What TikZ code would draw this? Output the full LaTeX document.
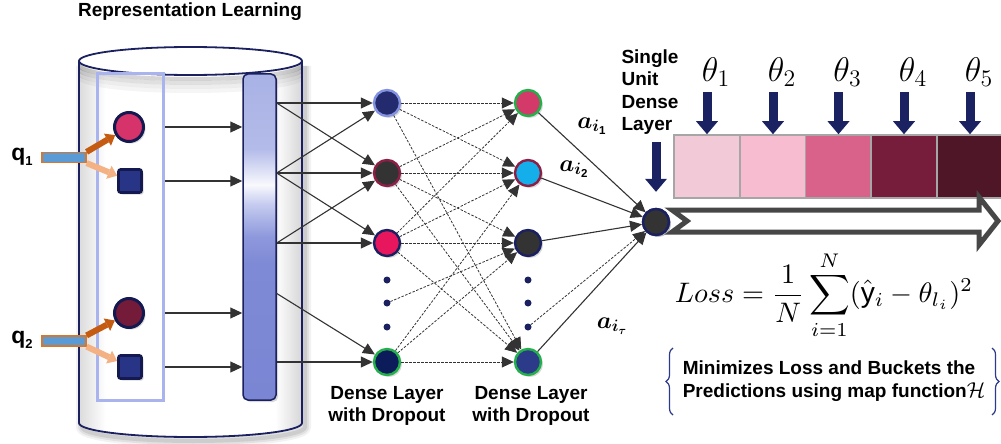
\documentclass[tikz,border=0pt]{standalone}
\usepackage{fontspec}
\setmainfont{Liberation Sans}
\usepackage{amsmath,bm}
\usepackage{graphicx}
\usetikzlibrary{arrows.meta,shadows,decorations.pathreplacing,calc}

\definecolor{navy}{HTML}{1B2160}
\definecolor{navyA}{HTML}{1A2262}
\definecolor{lnk}{HTML}{333333}
\definecolor{poolc}{HTML}{A9B3EE}
\definecolor{barA}{HTML}{A9B2E5}
\definecolor{barB}{HTML}{7A86D3}
\definecolor{barC}{HTML}{7F8AD6}
\definecolor{barD}{HTML}{8D98DC}
\definecolor{barE}{HTML}{C5CBEF}
\definecolor{barF}{HTML}{B3BBE9}
\definecolor{qblue}{HTML}{5B9BD5}
\definecolor{qedge}{HTML}{D4782F}
\definecolor{odark}{HTML}{C55A11}
\definecolor{olight}{HTML}{F4B183}
\definecolor{pinkA}{HTML}{D6336A}
\definecolor{wine}{HTML}{751B3A}
\definecolor{sqfill}{HTML}{283587}
\definecolor{sqedge}{HTML}{141A50}
\definecolor{periw}{HTML}{8392E0}
\definecolor{maroon}{HTML}{8C1F45}
\definecolor{grn}{HTML}{23B04A}
\definecolor{hotpink}{HTML}{E8175D}
\definecolor{deepnavy}{HTML}{0C1C5A}
\definecolor{midnavy}{HTML}{232A6E}
\definecolor{rose}{HTML}{D33A6A}
\definecolor{cyanb}{HTML}{14AEEA}
\definecolor{bluen}{HTML}{2C3A8A}
\definecolor{darkg}{HTML}{333333}
\definecolor{boxgray}{HTML}{A6A6A6}
\definecolor{th1}{HTML}{F2C9D6}
\definecolor{th2}{HTML}{F7BCD0}
\definecolor{th3}{HTML}{D9628B}
\definecolor{th4}{HTML}{751D3B}
\definecolor{th5}{HTML}{4F1628}
\definecolor{hollow}{HTML}{474747}
\definecolor{bracec}{HTML}{2B3A8C}

\pgfdeclarehorizontalshading{cylwall}{100bp}{color(0bp)=(black!14); color(25bp)=(black!14); color(31bp)=(white); color(69bp)=(white); color(75bp)=(black!16); color(100bp)=(black!16)}
\pgfdeclareverticalshading{barfill}{100bp}{color(0bp)=(barB); color(25bp)=(barB); color(46bp)=(barC); color(50bp)=(barD); color(55bp)=(barE); color(58bp)=(white!92!barA); color(63.5bp)=(barF); color(75bp)=(barA); color(100bp)=(barA)}

\begin{document}
\begin{tikzpicture}[x=1pt,y=-1pt,
  lbl/.style={font=\fontsize{19}{22.5}\selectfont\bfseries},
  shade3/.style={drop shadow={opacity=0.3, shadow xshift=2pt, shadow yshift=-2pt}},
  neuron/.style={circle, minimum size=26pt, inner sep=0pt, line width=2.4pt, shade3},
  dotn/.style={circle, fill=navy, minimum size=7pt, inner sep=0pt},
  item/.style={circle, minimum size=29pt, inner sep=0pt, line width=3pt, draw=sqedge, shade3},
  itemsq/.style={rectangle, rounded corners=2pt, minimum size=23pt, inner sep=0pt, line width=2.6pt, draw=sqedge, fill=sqfill, shade3},
  qbox/.style={rectangle, minimum width=44pt, minimum height=10pt, inner sep=0pt, fill=qblue, draw=qedge, line width=1.2pt},
  link/.style={draw=lnk, line width=1.1pt, -{Triangle[length=12pt,width=11pt]}},
  droplink/.style={draw=lnk, line width=0.8pt, dash pattern=on 2.5pt off 1.5pt, -{Triangle[length=12pt,width=11pt]}},
  feed/.style={line width=6pt, -{Triangle[length=9pt,width=14pt,line width=0pt]}},
  navarrow/.style={draw=navyA, line width=9pt, -{Triangle[length=13pt,width=22pt,line width=0pt]}},
  tbox/.style={rectangle, draw=boxgray, line width=1.6pt, minimum width=66pt, minimum height=63pt, inner sep=0pt},
  alabel/.style={font=\fontsize{20}{20}\selectfont},
]
\useasboundingbox (0,0) rectangle (1001,444);

% ---------------- title ----------------
\node[lbl] (title) at (190,12) {Representation Learning};

% ---------------- cylinder ----------------
\foreach \w/\o in {12/0.05,8/0.07,4/0.09}{
  \draw[black, opacity=\o, line width=\w pt, line join=round]
    (82,66) -- (82,427) arc[start angle=180,end angle=0,x radius=111.5,y radius=14] -- (305,66);
}
\path[shading=cylwall] (79,61) -- (79,423) arc[start angle=180,end angle=0,x radius=111.5,y radius=14] -- (302,61) -- cycle;
\begin{scope}
  \clip (79,61) -- (79,423) arc[start angle=180,end angle=0,x radius=111.5,y radius=14] -- (302,61) -- cycle;
  \foreach \k/\o in {4/0.16,8/0.12,12/0.07,16/0.04}{
    \draw[black, opacity=\o, line width=4pt] (79,61+\k) arc[start angle=180,end angle=0,x radius=111.5,y radius=14];
  }
\end{scope}
\draw[navy, line width=1.8pt] (79,61) -- (79,423) arc[start angle=180,end angle=0,x radius=111.5,y radius=14] -- (302,61);
\draw[navy, line width=1.8pt, fill=white] (190.5,61) ellipse[x radius=111.5, y radius=14];

% pool of embeddings and the concatenation bar
\node[rectangle, draw=poolc, line width=3pt, minimum width=66pt, minimum height=327pt, inner sep=0pt] (pool) at (130.5,237) {};
\node[rectangle, rounded corners=5pt, draw=navy, line width=1.5pt, shading=barfill, minimum width=33pt, minimum height=326pt, inner sep=0pt, shade3] (bar) at (259.5,237) {};

% items inside the pool
\node[item, fill=pinkA] (e1) at (129,127) {};
\node[itemsq] (e2) at (130,181) {};
\node[item, fill=wine] (e3) at (129,313) {};
\node[itemsq] (e4) at (130,367) {};

% queries
\node[qbox] (q1box) at (64,157.5) {};
\node[qbox] (q2box) at (64,341) {};
\node[font=\fontsize{23}{23}\selectfont\bfseries] (q1) at (22,157) {q\raisebox{-5pt}{\fontsize{13}{13}\selectfont 1}};
\node[font=\fontsize{23}{23}\selectfont\bfseries] (q2) at (22,340) {q\raisebox{-5pt}{\fontsize{13}{13}\selectfont 2}};
\draw[feed, draw=odark] (q1box.north east) -- (e1);
\draw[feed, draw=olight] (q1box.south east) -- (e2);
\draw[feed, draw=odark] (q2box.north east) -- (e3);
\draw[feed, draw=olight] (q2box.south east) -- (e4);

% pool to bar
\foreach \e in {e1,e2,e3,e4}{
  \draw[link] (pool.east |- \e) -- (bar.west |- \e);
}

% ---------------- dense layers ----------------
\node[neuron, fill=midnavy, draw=periw] (a1) at (387,103) {};
\node[neuron, fill=darkg, draw=maroon] (a2) at (387,173) {};
\node[neuron, fill=hotpink, draw=navy] (a3) at (387,243) {};
\node[neuron, fill=deepnavy, draw=grn] (a4) at (387,362) {};
\node[dotn] (ad1) at (387,280) {};
\node[dotn] (ad2) at (387,303) {};
\node[dotn] (ad3) at (387,327) {};

\node[neuron, fill=rose, draw=grn] (b1) at (528,103) {};
\node[neuron, fill=cyanb, draw=maroon] (b2) at (528,173) {};
\node[neuron, fill=darkg, draw=navy] (b3) at (528,243) {};
\node[neuron, fill=bluen, draw=grn] (b4) at (528,362) {};
\node[dotn] (bd1) at (528,280) {};
\node[dotn] (bd2) at (528,303) {};
\node[dotn] (bd3) at (528,327) {};

\node[neuron, fill=darkg, draw=navy] (s) at (656,222) {};

% bar to first dense layer
\coordinate (c4) at (276,293);
\draw[link] (bar.east |- a1) -- (a1);
\draw[link] (bar.east |- a1) -- (a2);
\draw[link] (bar.east |- a2) -- (a1);
\draw[link] (bar.east |- a2) -- (a2);
\draw[link] (bar.east |- a2) -- (a3);
\draw[link] (bar.east |- a3) -- (a2);
\draw[link] (bar.east |- a3) -- (a3);
\draw[link] (c4) -- (a4);
\draw[link] (bar.east |- a4) -- (a4);

% first to second dense layer (dropout)
\foreach \u/\v in {a1/b1,a1/b2,a1/b4,a2/b1,a2/b2,a2/b3,a2/b4,a3/b1,a3/b2,a3/b3,a3/b4,ad2/b3,a4/b2,a4/b3,a4/b4}{
  \draw[droplink] (\u) -- (\v);
}

% second dense layer to the single unit
\draw[link] (b1) -- (s);
\draw[link] (b2) -- (s);
\draw[link] (b3) -- (s);
\draw[link] (b4) -- (s);
\draw[droplink] (bd3) -- (s);

\node[alabel] (w1) at (592,126) {\scalebox{1.15}{$\boldsymbol{a}_{\boldsymbol{i}_{\mathbf{1}}}$}};
\node[alabel] (w2) at (574,169) {\scalebox{1.15}{$\boldsymbol{a}_{\boldsymbol{i}_{\mathbf{2}}}$}};
\node[alabel] (w3) at (612,326) {\scalebox{1.15}{$\boldsymbol{a}_{\boldsymbol{i}_{\boldsymbol{\tau}}}$}};

\node[lbl, align=center] (d1) at (387,406) {Dense Layer\\with Dropout};
\node[lbl, align=center] (d2) at (531,406) {Dense Layer\\with Dropout};

% ---------------- buckets ----------------
\node[tbox, fill=th1] (x1) at (707,166.5) {};
\node[tbox, fill=th2] (x2) at (773,166.5) {};
\node[tbox, fill=th3] (x3) at (838.5,166.5) {};
\node[tbox, fill=th4] (x4) at (904,166.5) {};
\node[tbox, fill=th5] (x5) at (970,166.5) {};

\foreach \i in {1,...,5}{
  \node[font=\fontsize{20}{20}\selectfont, inner sep=1pt] (t\i) at ($(x\i.north)+(9,-62)$) {\scalebox{1.65}{$\theta_{\i}$}};
  \draw[navarrow] ($(x\i.north)+(0,-42)$) -- (x\i.north);
}

% hollow output arrow
\draw[draw=hollow, line width=5pt, fill=white, line join=miter]
  (672,210) -- (979,210) -- (979,197) -- (998,221) -- (979,245) -- (979,232) -- (672,232) -- (687,221) -- cycle;
\node[neuron, fill=darkg, draw=navy] at (s) {};

\node[lbl, align=left, anchor=north west] (single) at (618,46) {Single\\Unit\\Dense\\Layer};
\draw[navarrow, shorten <=4pt, shorten >=16pt] (s.north |- single.south) -- (s.north);

% ---------------- loss ----------------
\node (loss) at (824,295) {\resizebox{298pt}{!}{$\displaystyle Loss=\frac{1}{N}\sum_{i=1}^{N}(\hat{\mathrm{y}}_i-\theta_{l_i})^2$}};

\node[lbl, align=left] (note) at (834,381) {Minimizes Loss and Buckets the\\Predictions using map function\scalebox{1.25}{$\mathcal{H}$}};
\draw[bracec, line width=1.2pt, decorate, decoration={brace, amplitude=7pt}] (673,415) -- (673,348);
\draw[bracec, line width=1.2pt, decorate, decoration={brace, amplitude=7pt}] (992,348) -- (992,415);
\end{tikzpicture}
\end{document}
